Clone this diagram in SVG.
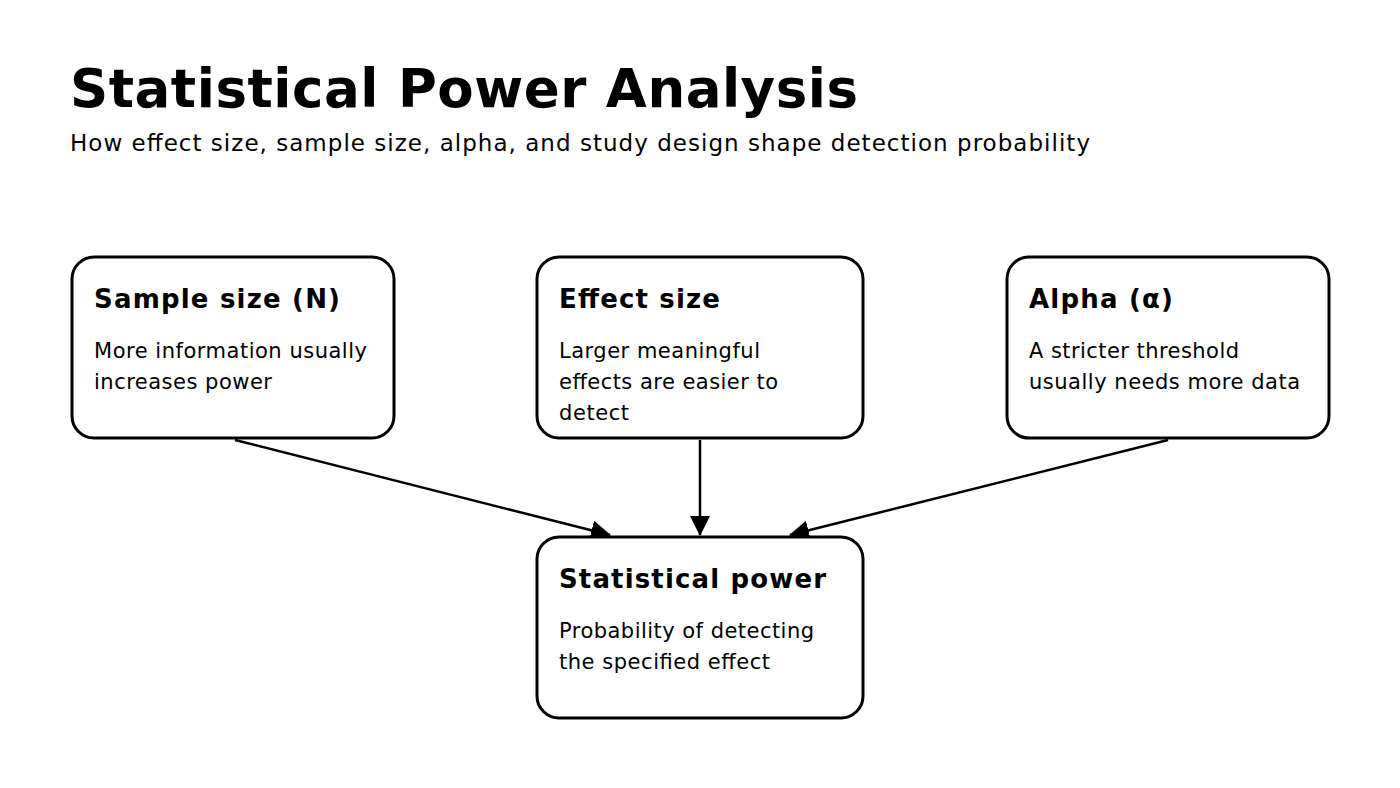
<svg xmlns="http://www.w3.org/2000/svg" width="1400" height="788" viewBox="0 0 1400 788">
<style>
text{font-family:"DejaVu Sans",sans-serif;fill:#000}
.t{font-size:53px;font-weight:bold}
.s{font-size:23px}
.h{font-size:26px;font-weight:bold}
.b{font-size:21px}
.box{fill:#fff;stroke:#000;stroke-width:3}
</style>
<defs>
<marker id="ah" viewBox="0 0 20 20" refX="19" refY="10" markerWidth="20" markerHeight="20" orient="auto" markerUnits="userSpaceOnUse"><path d="M0,0L20,10L0,20z"/></marker></defs>
<rect width="1400" height="788" fill="#fff"/>
<text class="t" x="70" y="107" textLength="788" lengthAdjust="spacing">Statistical Power Analysis</text>
<text class="s" x="70" y="151" textLength="1020" lengthAdjust="spacing">How effect size, sample size, alpha, and study design shape detection probability</text>
<g id="connectors">
<path d="M235,440L610,535" stroke="#000" stroke-width="2.5" marker-end="url(#ah)"/>
<path d="M700,440L700,535" stroke="#000" stroke-width="2.5" marker-end="url(#ah)"/>
<path d="M1168,440L790,535" stroke="#000" stroke-width="2.5" marker-end="url(#ah)"/>
</g>
<g id="sample"><rect class="box" x="72" y="257" width="322" height="181" rx="22"/>
<text class="h" x="94" y="308" textLength="246" lengthAdjust="spacing">Sample size (N)</text>
<text class="b" x="94" y="358" textLength="273" lengthAdjust="spacing">More information usually</text><text class="b" x="94" y="389" textLength="178" lengthAdjust="spacing">increases power</text></g>
<g id="effect"><rect class="box" x="537" y="257" width="326" height="181" rx="22"/>
<text class="h" x="559" y="308" textLength="161" lengthAdjust="spacing">Effect size</text>
<text class="b" x="559" y="358" textLength="201" lengthAdjust="spacing">Larger meaningful</text><text class="b" x="559" y="389" textLength="219" lengthAdjust="spacing">effects are easier to</text><text class="b" x="559" y="420" textLength="70" lengthAdjust="spacing">detect</text></g>
<g id="alpha"><rect class="box" x="1007" y="257" width="322" height="181" rx="22"/>
<text class="h" x="1029" y="308" textLength="144" lengthAdjust="spacing">Alpha (α)</text>
<text class="b" x="1029" y="358" textLength="210" lengthAdjust="spacing">A stricter threshold</text><text class="b" x="1029" y="389" textLength="271" lengthAdjust="spacing">usually needs more data</text></g>
<g id="power"><rect class="box" x="537" y="537" width="326" height="181" rx="22"/>
<text class="h" x="559" y="588" textLength="267" lengthAdjust="spacing">Statistical power</text>
<text class="b" x="559" y="638" textLength="255" lengthAdjust="spacing">Probability of detecting</text><text class="b" x="559" y="669" textLength="211" lengthAdjust="spacing">the specified effect</text></g>
</svg>
